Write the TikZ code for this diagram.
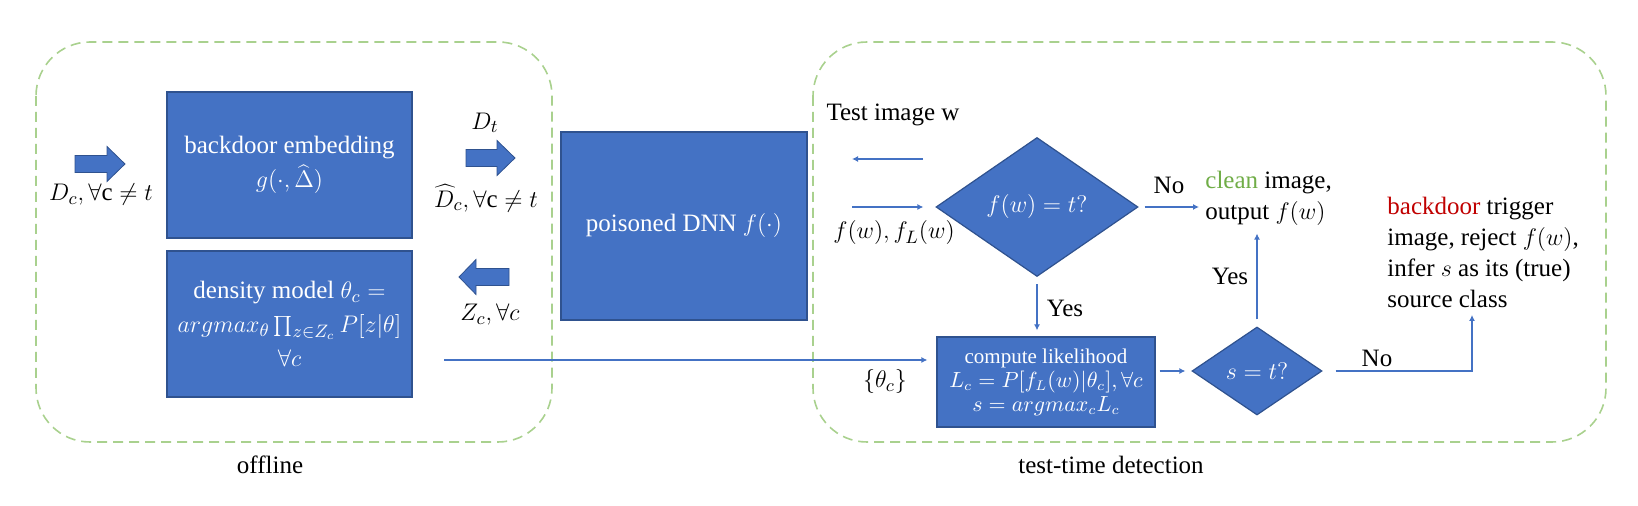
\documentclass[tikz,border=0pt]{standalone}
\usepackage{fontspec}
\setmainfont{Liberation Serif}
\usepackage{xcolor}
\usepackage{tikz}
\usetikzlibrary{shapes}
\usetikzlibrary{shapes.geometric}
\usetikzlibrary{arrows.meta}
\usetikzlibrary{positioning}
\definecolor{boxblue}{HTML}{4472C4}
\definecolor{boxedge}{HTML}{2F528F}
\definecolor{dashgreen}{HTML}{A9D18E}
\definecolor{cleangreen}{HTML}{70AD47}
\definecolor{trigred}{HTML}{C00000}

\begin{document}
\begin{tikzpicture}[
        x=0.5pt, y=-0.5pt,
        every node/.style={font=\fontsize{12.5}{15.5}\selectfont, inner sep=1pt},
        flow/.style={draw=boxblue, line width=0.75pt, -{Latex[length=3pt,width=3pt]}},
        ]
        \tikzstyle{block} = [rectangle, fill=boxblue, draw=boxedge, line width=0.6pt, text=white, align=center, inner sep=0pt, font=\fontsize{12.5}{17}\selectfont];
        \tikzstyle{decision} = [diamond, fill=boxblue, draw=boxedge, line width=0.6pt, text=white, inner sep=0pt];
        \tikzstyle{stage} = [draw=dashgreen, line width=0.8pt, dash pattern=on 5pt off 3pt, rounded corners=27pt];
        \tikzstyle{fat} = [fill=boxblue, draw=boxedge, line width=0.4pt];

        \useasboundingbox (0,0) rectangle (1638,506);

        % the two stages
        \draw[stage] (36,42) rectangle (552,442);
        \draw[stage] (813,42) rectangle (1606,442);
        \node (offline) at (270,465) {offline};
        \node (testtime) at (1111,465) {test-time detection};

        % offline part
        \node[block, minimum width=122.5pt, minimum height=73pt] (embed) at (289.5,165) {backdoor embedding\\$g(\cdot,\widehat{\Delta})$};
        \node[block, minimum width=122.5pt, minimum height=73pt] (density) at (289.5,324) {density model $\theta_c =$\\$argmax_\theta \prod_{z\in Z_c} P[z|\theta]$\\$\forall c$};
        \node[block, minimum width=123pt, minimum height=94pt] (dnn) at (684,226) {poisoned DNN $f(\cdot)$};

        \filldraw[fat, shift={(75,164)}] (0,-8.5) -- (32,-8.5) -- (32,-17.5) -- (50,0) -- (32,17.5) -- (32,8.5) -- (0,8.5) -- cycle;
        \filldraw[fat, shift={(466,158)}] (0,-8.5) -- (31,-8.5) -- (31,-17.5) -- (49,0) -- (31,17.5) -- (31,8.5) -- (0,8.5) -- cycle;
        \filldraw[fat, shift={(509,277)}] (0,-8.5) -- (-33,-8.5) -- (-33,-17.5) -- (-50,0) -- (-33,17.5) -- (-33,8.5) -- (0,8.5) -- cycle;

        \node (dclabel) at (101,195) {$D_c, \forall \mathrm{c} \neq t$};
        \node (dtlabel) at (485,123) {$D_t$};
        \node (dhatlabel) at (486,198) {$\widehat{D}_c, \forall \mathrm{c} \neq t$};
        \node (zclabel) at (490,315) {$Z_c, \forall c$};

        % test-time part
        \node[decision, minimum width=101pt, minimum height=69.5pt] (check1) at (1037,207) {$f(w) = t?$};
        \node[block, minimum width=109pt, minimum height=45pt, font=\fontsize{10.5}{12}\selectfont] (like) at (1046,382) {compute likelihood\\$L_c = P[f_L(w)|\theta_c], \forall c$\\$s = argmax_c L_c$};
        \node[decision, minimum width=65pt, minimum height=44pt] (check2) at (1257,371) {$s = t?$};

        \node (testimg) at (893,115) {Test image w};
        \coordinate (wout) at (923,159);
        \coordinate (win) at (852,159);
        \draw[flow] (wout) -- (win);
        \coordinate (fwtail) at (852,207);
        \draw[flow, shorten >=6pt] (fwtail) -- (check1.west);
        \node (fwlabel) at (894,233) {$f(w), f_L(w)$};

        \coordinate (thtail) at (444,360);
        \draw[flow, shorten >=4.5pt] (thtail) -- (thtail -| like.west);
        \node (thlabel) at (885,382) {$\{\theta_c\}$};

        \node[anchor=west, align=left] (clean) at (1203,198) {\textcolor{cleangreen}{clean} image,\\output $f(w)$};
        \draw[flow, shorten <=3pt, shorten >=2pt] (check1.east) -- (clean.west |- check1.east);
        \node (no1) at (1169,185) {No};

        \draw[flow, shorten <=3.5pt, shorten >=3pt] (check1.south) -- (check1.south |- like.north);
        \node (yes1) at (1065,308) {Yes};

        \draw[flow, shorten <=2pt, shorten >=3pt] (like.east |- check2.west) -- (check2.west);

        \draw[flow, shorten <=3.5pt, shorten >=3pt] (check2.north) -- (check2.north |- clean.south);
        \node (yes2) at (1230,276) {Yes};

        \node[anchor=west, align=left] (trigger) at (1385,252) {\textcolor{trigred}{backdoor} trigger\\image, reject $f(w)$,\\infer $s$ as its (true)\\source class};
        \coordinate (noup) at (1472,315);
        \draw[flow, shorten <=6.5pt] (check2.east) -| (noup);
        \node (no2) at (1377,358) {No};
\end{tikzpicture}
\end{document}
